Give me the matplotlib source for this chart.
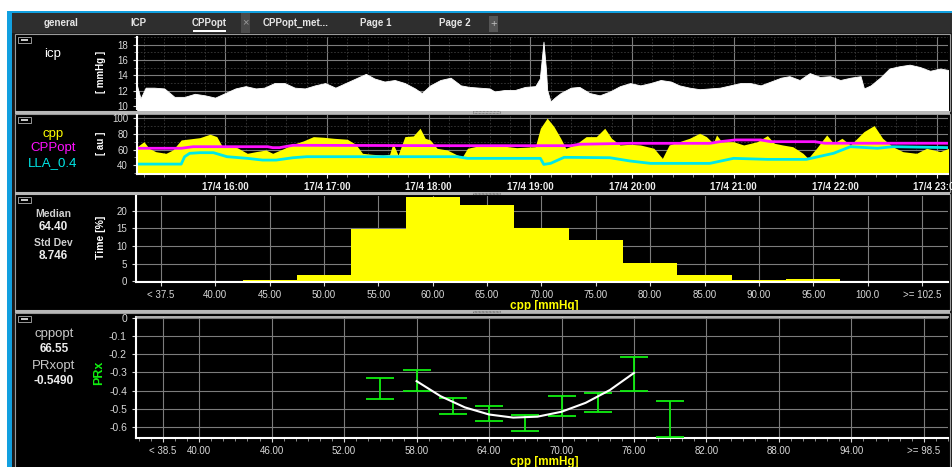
import numpy as np
import pandas as pd
import matplotlib
matplotlib.use("Agg")
import matplotlib.pyplot as plt
import matplotlib.dates as mdates
from matplotlib.patches import Rectangle
from matplotlib.ticker import FixedLocator, MultipleLocator, FuncFormatter

plt.rcParams["font.family"] = ["Liberation Sans", "DejaVu Sans"]

DAY = "2024-04-17 "

# icp trend [mmHg]
ICP_TIMES = ["15:08", "15:10", "15:13", "15:18", "15:24", "15:30", "15:36", "15:42", "15:48",
             "15:54", "16:00", "16:06", "16:12", "16:18", "16:23", "16:29", "16:35", "16:41",
             "16:47", "16:53", "16:59", "17:05", "17:11", "17:17", "17:23", "17:28", "17:34",
             "17:40", "17:46", "17:52", "17:56", "18:01", "18:07", "18:13", "18:19", "18:24",
             "18:30", "18:36", "18:39", "18:45", "18:51", "18:57", "19:03", "19:05:40",
             "19:07:50", "19:09:20", "19:10", "19:12", "19:15", "19:18", "19:24", "19:29",
             "19:35", "19:41", "19:47", "19:53", "19:59", "20:05", "20:11", "20:17", "20:23",
             "20:28", "20:34", "20:40", "20:46", "20:52", "20:58", "21:04", "21:10", "21:16",
             "21:22", "21:28", "21:33", "21:39", "21:45", "21:51", "21:57", "22:03", "22:09",
             "22:15", "22:17", "22:21", "22:27", "22:32", "22:38", "22:44", "22:50", "22:56",
             "23:02", "23:07"]
ICP_VALUES = [12.6, 11.0, 12.4, 12.4, 12.3, 11.2, 11.2, 11.6, 11.4,
              11.1, 11.7, 12.3, 12.6, 12.3, 12.4, 13.0, 13.0, 12.4,
              12.3, 12.7, 13.0, 12.4, 13.0, 13.6, 14.2, 13.6, 13.2,
              13.4, 13.0, 12.3, 11.7, 12.7, 13.4, 13.7, 12.7, 12.5,
              12.4, 12.3, 11.9, 12.1, 12.1, 12.5, 12.6, 13.6,
              18.4, 14.7, 12.1, 10.6, 11.2, 11.7, 12.4, 12.5,
              11.7, 11.4, 11.9, 12.6, 13.0, 12.7, 13.0, 13.4, 13.2,
              12.7, 12.4, 12.2, 12.3, 12.4, 12.7, 13.0, 13.0, 12.7,
              13.2, 13.7, 13.9, 13.4, 14.3, 13.8, 13.9, 13.4, 13.7,
              13.9, 12.3, 12.7, 13.8, 14.9, 15.2, 15.4, 15.1, 14.6,
              14.9, 14.7]

# cpp trend [au]
CPP_TIMES = ["15:08", "15:12", "15:15", "15:19", "15:25", "15:29", "15:34", "15:39", "15:45",
             "15:51", "15:55", "15:58", "16:02", "16:07", "16:13", "16:18", "16:24", "16:28",
             "16:34", "16:40", "16:46", "16:52", "16:58", "17:04", "17:12", "17:17", "17:21",
             "17:27", "17:33", "17:37", "17:39", "17:42", "17:46", "17:51", "17:55", "17:58",
             "18:01", "18:05", "18:11", "18:17", "18:20", "18:23", "18:30", "18:40", "18:42",
             "18:52", "19:03", "19:06", "19:10", "19:14", "19:18", "19:21", "19:26", "19:29",
             "19:33", "19:39", "19:44", "19:48", "19:53", "19:59", "20:05", "20:13", "20:18",
             "20:22", "20:28", "20:34", "20:40", "20:44", "20:48", "20:50", "20:53", "21:00",
             "21:06", "21:14", "21:20", "21:24", "21:29", "21:35", "21:41", "21:44", "21:49",
             "21:55", "21:59", "22:04", "22:09", "22:17", "22:23", "22:28", "22:34", "22:40",
             "22:48", "22:54", "23:02", "23:07"]
CPP_VALUES = [63.7, 70.1, 61.7, 57.4, 55.3, 59.5, 72.3, 73.6, 75.2,
              79.6, 76.5, 65.0, 63.7, 62.5, 55.3, 57.4, 59.5, 55.3,
              60.8, 66.8, 71.0, 76.5, 75.7, 74.4, 73.2, 66.8, 55.3,
              54.0, 53.1, 54.0, 68.1, 53.1, 76.5, 77.4, 87.2, 74.4,
              72.3, 61.7, 59.5, 53.1, 51.0, 61.7, 65.0, 65.9, 65.0,
              62.5, 63.7, 87.2, 100.0, 89.3, 74.4, 61.7, 65.9, 70.1,
              76.5, 76.5, 87.2, 74.4, 65.9, 66.8, 65.9, 61.7, 48.9,
              65.9, 70.1, 74.4, 80.8, 76.5, 68.1, 78.7, 70.1, 70.1,
              65.9, 70.1, 77.8, 68.1, 65.9, 63.7, 55.3, 48.9, 61.7,
              78.7, 68.1, 74.4, 65.9, 82.9, 90.6, 74.4, 63.7, 57.4,
              55.3, 61.7, 57.4, 61.7]

CPPOPT_TIMES = ["15:08", "15:34", "15:41", "16:25", "16:28", "16:32", "16:40", "18:13",
                "19:24", "19:29", "19:59", "20:46", "20:52", "21:01", "21:16", "21:22",
                "21:48", "21:54", "23:07"]
CPPOPT_VALUES = [61.7, 61.7, 63.7, 63.7, 62.5, 62.5, 65.5, 65.0,
                 65.0, 66.8, 68.0, 68.0, 70.1, 72.3, 72.3, 70.1,
                 70.1, 68.1, 68.1]

LLA_TIMES = ["15:08", "15:34", "15:36", "15:39", "15:45", "15:53", "16:01", "16:13", "16:22",
             "16:30", "16:40", "16:48", "18:17", "18:23", "19:06", "19:08", "19:12", "19:20",
             "19:47", "19:59", "20:11", "20:46", "21:00", "21:20", "21:43", "21:59", "22:09",
             "22:25", "22:34", "23:08"]
LLA_VALUES = [41.6, 41.6, 51.0, 55.3, 56.1, 56.1, 51.0, 48.9, 46.7,
              46.7, 49.7, 51.0, 51.0, 48.9, 48.9, 41.2, 42.5, 50.2,
              49.7, 45.5, 42.5, 42.5, 48.9, 47.6, 47.6, 55.3, 63.7,
              61.7, 63.7, 62.5]

# cpp histogram
HIST_BINS = [35, 40, 45, 50, 55, 60, 65, 70, 75, 80, 85, 90, 95, 100, 105]
HIST_LABELS = ["< 37.5", "40.00", "45.00", "50.00", "55.00", "60.00", "65.00", "70.00",
               "75.00", "80.00", "85.00", "90.00", "95.00", "100.0", ">= 102.5"]
HIST_PERCENT = [0, 0, 0.3, 1.9, 14.8, 23.8, 21.7, 15.1, 11.7, 5.1, 1.8, 0.4, 0.6, 0.1, 0]

# PRx vs cpp
PRX_TICKS = [37, 40, 46, 52, 58, 64, 70, 76, 82, 88, 94, 100]
PRX_TICK_LABELS = ["< 38.5", "40.00", "46.00", "52.00", "58.00", "64.00", "70.00",
                   "76.00", "82.00", "88.00", "94.00", ">= 98.5"]
PRX_CPP = [55, 58, 61, 64, 67, 70, 73, 76, 79]
PRX_LOW = [-0.448, -0.404, -0.530, -0.569, -0.619, -0.540, -0.516, -0.401, -0.652]
PRX_HIGH = [-0.330, -0.287, -0.440, -0.483, -0.535, -0.430, -0.414, -0.216, -0.459]
FIT_CPP = [58, 60, 62, 64, 66, 68, 70, 72, 74, 76]
FIT_PRX = [-0.348, -0.431, -0.492, -0.531, -0.548, -0.543, -0.516, -0.467, -0.397, -0.303]

W, H = 952, 467
GRID = "#7c7c7c"
TXT = "#d8d8d8"
YELLOW = "#ffff00"
GREEN = "#10f010"

fig = plt.figure(figsize=(W / 100, H / 100), dpi=100, facecolor="white")


def to_times(clock):
    return pd.to_datetime([DAY + t for t in clock], format="mixed")


def rect_px(x0, y0, x1, y1, zorder=-2, **kw):
    r = Rectangle((x0 / W, 1 - y1 / H), (x1 - x0) / W, (y1 - y0) / H,
                  transform=fig.transFigure, zorder=zorder, **kw)
    fig.add_artist(r)
    return r


def text_px(x, y, s, **kw):
    kw.setdefault("ha", "center")
    kw.setdefault("va", "center")
    fig.text(x / W, 1 - y / H, s, **kw)


def axes_px(x0, y0, x1, y1):
    return fig.add_axes([x0 / W, 1 - y1 / H, (x1 - x0) / W, (y1 - y0) / H])


def style_axes(ax):
    ax.set_facecolor("black")
    for s in ["top", "right"]:
        ax.spines[s].set_visible(False)
    for s in ["left", "bottom"]:
        ax.spines[s].set_color("white")
        ax.spines[s].set_linewidth(1.5)
    ax.tick_params(colors=TXT, labelsize=7, length=3, width=0.8)
    ax.tick_params(which="minor", colors="#a0a0a0", length=2, width=0.6)
    ax.grid(True, which="major", color=GRID, lw=0.8)
    ax.set_axisbelow(True)


# window chrome
rect_px(7, 11, 952, 13, color="#12a0e0", lw=0)
rect_px(7, 13, 12, 467, color="#12a0e0", lw=0)
rect_px(12, 13, 952, 467, color="#1c1c1c", lw=0)
rect_px(12, 13, 952, 33, color="#2e2e2e", lw=0)
rect_px(241, 13, 250, 33, color="#4a4a4a", lw=0)
text_px(245.5, 22, "×", color="#9a9a9a", fontsize=8)
rect_px(489, 16, 498, 32, color="#555555", lw=0)
text_px(493.5, 23.5, "+", color="#c0c0c0", fontsize=8)
for x, s in [(61, "general"), (138, "ICP"), (209, "CPPopt"), (296, "CPPopt_met..."),
             (376, "Page 1"), (455, "Page 2")]:
    text_px(x, 23, s, color="#e6e6e6", fontsize=7, fontweight="bold")
rect_px(193, 30.5, 226, 32, color="white", lw=0)

# panels
for y0, y1 in [(34, 111), (114, 192), (194, 310), (313, 470)]:
    rect_px(15, y0, 950, y1, facecolor="black", edgecolor="#9a9a9a", lw=0.8)
    rect_px(18, y0 + 3, 31, y0 + 8.5, facecolor="black", edgecolor="#b0b0b0", lw=0.6)
    rect_px(21, y0 + 5, 28, y0 + 6.5, facecolor="#c8c8c8", lw=0)

# --- icp panel ---
icp_t = to_times(ICP_TIMES)
ax1 = axes_px(137, 36.7, 948, 109.5)
style_axes(ax1)
ax1.fill_between(icp_t, ICP_VALUES, 0, color="white", lw=0.6, ec="white")
ax1.set_ylim(9.55, 19.05)
ax1.yaxis.set_major_locator(FixedLocator([10, 12, 14, 16, 18]))
ax1.yaxis.set_minor_locator(MultipleLocator(1))

# --- cpp panel ---
cpp_t = to_times(CPP_TIMES)
opt_t = to_times(CPPOPT_TIMES)
lla_t = to_times(LLA_TIMES)
ax2 = axes_px(137, 115, 948, 174)
style_axes(ax2)
ax2.fill_between(cpp_t, CPP_VALUES, 0, color=YELLOW, lw=0)
ax2.plot(opt_t, CPPOPT_VALUES, color="#ff10ff", lw=2)
ax2.plot(lla_t, LLA_VALUES, color="#00e8e8", lw=2)
ax2.set_ylim(29, 104)
ax2.yaxis.set_major_locator(FixedLocator([40, 60, 80, 100]))
ax2.yaxis.set_minor_locator(MultipleLocator(10))

t0 = pd.Timestamp(DAY + "15:07:54")
t1 = pd.Timestamp(DAY + "23:06:36")
for ax in (ax1, ax2):
    ax.set_xlim(t0, t1)
    ax.xaxis.set_major_locator(mdates.HourLocator())
    ax.xaxis.set_minor_locator(mdates.MinuteLocator(byminute=[12, 24, 36, 48]))
    ax.grid(True, which="minor", color="#3a3a3a", lw=0.6, ls=(0, (2, 2)))
ax1.tick_params(axis="x", which="both", labelbottom=False, length=0)
ax1.spines["bottom"].set_visible(False)
ax2.xaxis.set_major_formatter(
    FuncFormatter(lambda v, p: (lambda d: f"{d.day}/{d.month} {d:%H:%M}")(mdates.num2date(v))))
ax2.tick_params(axis="x", labelsize=7, colors="#ececec", pad=3)
for lbl in ax2.get_xticklabels():
    lbl.set_fontweight("bold")

# --- histogram panel ---
ax3 = axes_px(136, 196, 948, 282)
style_axes(ax3)
ax3.bar(HIST_BINS, HIST_PERCENT, width=5, color=YELLOW, lw=0)
ax3.set_xlim(32.7, 107.4)
ax3.set_ylim(-0.2, 24.2)
ax3.xaxis.set_major_locator(FixedLocator(HIST_BINS))
ax3.set_xticklabels(HIST_LABELS)
ax3.yaxis.set_major_locator(FixedLocator([0, 5, 10, 15, 20]))
ax3.tick_params(axis="x", pad=2.5)

# --- PRx panel ---
ax4 = axes_px(136, 317, 948, 438)
style_axes(ax4)
ax4.spines["top"].set_visible(True)
ax4.spines["top"].set_color("#d0d0d0")
ax4.spines["top"].set_linewidth(1.2)
prx_low = np.array(PRX_LOW)
prx_high = np.array(PRX_HIGH)
ax4.errorbar(PRX_CPP, (prx_low + prx_high) / 2, yerr=(prx_high - prx_low) / 2, fmt="none",
             ecolor=GREEN, elinewidth=1.3, capsize=10, capthick=1.3, zorder=3)
ax4.plot(FIT_CPP, FIT_PRX, color="white", lw=1.5, zorder=4)
ax4.set_xlim(34.77, 102)
ax4.set_ylim(-0.66, 0.004)
ax4.xaxis.set_major_locator(FixedLocator(PRX_TICKS))
ax4.set_xticklabels(PRX_TICK_LABELS)
ax4.xaxis.set_minor_locator(MultipleLocator(1))
ax4.yaxis.set_major_locator(FixedLocator([0, -0.1, -0.2, -0.3, -0.4, -0.5, -0.6]))
ax4.yaxis.set_major_formatter(FuncFormatter(lambda v, p: f"{v:.1f}" if abs(v) > 1e-9 else "0"))
ax4.tick_params(axis="x", pad=3)
ax4.tick_params(axis="y", labelsize=7.5)

# panel side labels
text_px(53, 54, "icp", color="white", fontsize=9.5)
text_px(101, 72, "[ mmHg ]", color="white", fontsize=7, fontweight="bold", rotation=90)
text_px(53, 134, "cpp", color=YELLOW, fontsize=9.5)
text_px(53, 148.5, "CPPopt", color="#ff10ff", fontsize=9.5)
text_px(53, 163.5, "LLA_0.4", color="#00e8e8", fontsize=9.5)
text_px(101, 143, "[ au ]", color="white", fontsize=7, fontweight="bold", rotation=90)
text_px(53, 214, "Median", color="#d0d0d0", fontsize=7.5, fontweight="bold")
text_px(53, 227.5, "64.40", color="#ececec", fontsize=8.5, fontweight="bold")
text_px(53, 242.5, "Std Dev", color="#d0d0d0", fontsize=7.5, fontweight="bold")
text_px(53, 256, "8.746", color="#ececec", fontsize=8.5, fontweight="bold")
text_px(101.5, 237.5, "Time [%]", color="white", fontsize=7.5, fontweight="bold", rotation=90)
text_px(544, 306.5, "cpp [mmHg]", color=YELLOW, fontsize=8.5, fontweight="bold")
text_px(54, 333.5, "cppopt", color="#c8c8c8", fontsize=9.5)
text_px(54, 348.5, "66.55", color="#ececec", fontsize=8.5, fontweight="bold")
text_px(54, 366, "PRxopt", color="#c8c8c8", fontsize=9.5)
text_px(54, 381, "-0.5490", color="#ececec", fontsize=8.5, fontweight="bold")
text_px(99, 373, "PRx", color=GREEN, fontsize=9, fontweight="bold", rotation=90)
text_px(544, 462, "cpp [mmHg]", color=YELLOW, fontsize=8.5, fontweight="bold")

# panel separators with resize handles
for y in [111, 192, 310]:
    rect_px(15, y, 950, y + 3, color="#b8b8b8", lw=0, zorder=5)
    rect_px(473, y + 0.5, 500, y + 2, facecolor="none", edgecolor="#555555", lw=0.5,
            ls=(0, (1, 1)), zorder=6)

fig.savefig("out.png", dpi=100, facecolor="white")
